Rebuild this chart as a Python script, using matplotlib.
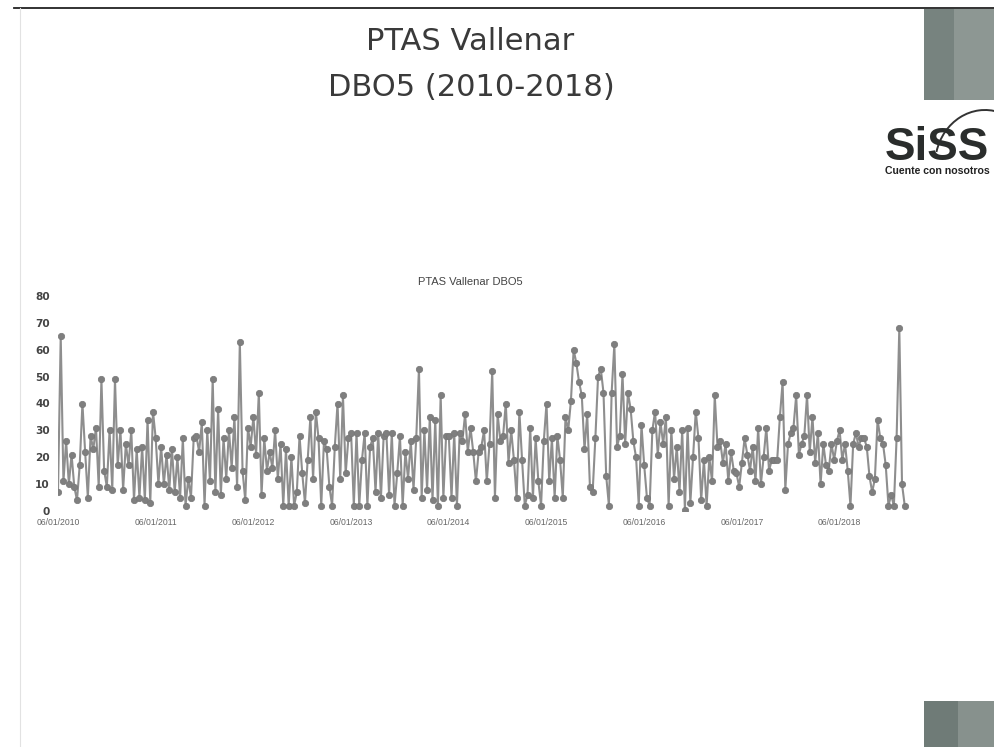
import numpy as np
import matplotlib
matplotlib.use("Agg")
import matplotlib.pyplot as plt
from matplotlib.patches import Rectangle, Arc, Circle

title_lines = ["PTAS Vallenar", "DBO5 (2010-2018)"]
chart_title = "PTAS Vallenar DBO5"
years = [2010, 2011, 2012, 2013, 2014, 2015, 2016, 2017, 2018]
tick_labels = ["06/01/2010", "06/01/2011", "06/01/2012", "06/01/2013", "06/01/2014",
               "06/01/2015", "06/01/2016", "06/01/2017", "06/01/2018"]
y_ticks = [0, 10, 20, 30, 40, 50, 60, 70, 80]

dbo5_2010 = [7,65,11,26,10,21,9,4,17,40,22,5,28,23,31,9,49,15,9,30,8,49,17,30,8,25,17,30,4,23,5,24,4,34,3,37]
dbo5_2011 = [27,10,24,10,21,8,23,7,20,5,27,2,12,5,27,28,22,33,2,30,11,49,7,38,6,27,12,30,16,35,9,63,15,4,31,24]
dbo5_2012 = [35,21,44,6,27,15,22,16,30,12,25,2,23,2,20,2,7,28,14,3,19,35,12,37,27,2,26,23,9,2,24,40,12,43,14,27]
dbo5_2013 = [29,2,29,2,19,29,2,24,27,7,29,5,28,29,6,29,2,14,28,2,22,12,26,8,27,53,5,30,8,35,4,34,2,43,5,28]
dbo5_2014 = [28,5,29,2,29,26,36,22,31,22,11,22,24,30,11,25,52,5,36,26,28,40,18,30,19,5,37,19,2,6,31,5,27,11,2,26]
dbo5_2015 = [40,11,27,5,28,19,5,35,30,41,60,55,48,43,23,36,9,7,27,50,53,44,13,2,44,62,24,28,51,25,44,38,26,20,2,32]
dbo5_2016 = [17,5,2,30,37,21,33,25,35,2,30,12,24,7,30,0.5,31,3,20,37,27,4,19,2,20,11,43,24,26,18,25,11,22,15,14,9]
dbo5_2017 = [18,27,21,15,24,11,31,10,20,31,15,19,19,19,35,48,8,25,29,31,43,21,25,28,43,22,35,18,29,10,25,17,15,25,19,26]
dbo5_2018 = [30,19,25,15,2,25,29,24,27,27,24,13,7,12,34,27,25,17,2,6,2,27,68,10,2]
samples_per_year = 36

series = [dbo5_2010, dbo5_2011, dbo5_2012, dbo5_2013, dbo5_2014, dbo5_2015, dbo5_2016, dbo5_2017, dbo5_2018]
x = np.concatenate([yr + np.arange(len(v)) / samples_per_year for yr, v in zip(years, series)])
y = np.concatenate(series)

W, H = 994, 747
fig = plt.figure(figsize=(W / 100, H / 100), dpi=100, facecolor="white")
plt.rcParams["font.family"] = ["DejaVu Sans"]

# slide layer in pixel coordinates
bg = fig.add_axes([0, 0, 1, 1])
bg.set_xlim(0, W)
bg.set_ylim(H, 0)
bg.axis("off")
bg.plot([14, 994], [8, 8], color="#222222", lw=1.3)
bg.plot([20, 20], [8, 747], color="#e2e2e2", lw=0.8)
bg.add_patch(Rectangle((924, 9), 30, 91, color="#77837f", lw=0))
bg.add_patch(Rectangle((954, 9), 40, 91, color="#8d9793", lw=0))
bg.add_patch(Rectangle((924, 701), 34, 46, color="#6f7b77", lw=0))
bg.add_patch(Rectangle((958, 701), 36, 46, color="#87918d", lw=0))
bg.text(470, 42, title_lines[0], ha="center", va="center", fontsize=22, color="#3a3a3a")
bg.text(471, 87, title_lines[1], ha="center", va="center", fontsize=22, color="#3a3a3a")
bg.text(937, 148, "SiSS", ha="center", va="center", fontsize=33, fontweight="bold",
        family="Liberation Sans", color="#2a2d2c")
bg.text(937, 171, "Cuente con nosotros", ha="center", va="center", fontsize=7.6, fontweight="bold",
        family="Liberation Sans", color="#222222")
bg.add_patch(Arc((985, 165), 100, 110, theta1=195, theta2=285, color="#333333", lw=1.4))

# chart layer
x0, x1 = 58, 58 + 97.7 * 9
ytop, ybot = 296, 511
ax = fig.add_axes([x0 / W, 1 - ybot / H, (x1 - x0) / W, (ybot - ytop) / H], facecolor="none")
ax.plot(x, y, color="#8e8e8e", lw=1.5, marker="o", ms=4.6,
        mfc="#7f7f7f", mec="#777777", mew=0.5, solid_joinstyle="round")
ax.set_xlim(2010, 2019)
ax.set_ylim(0, 80)
ax.set_xticks(years)
ax.set_xticklabels(tick_labels, fontsize=6.2, color="#666666", family="Liberation Sans")
ax.set_yticks(y_ticks)
ax.set_yticklabels([str(v) for v in y_ticks], fontsize=7.6, fontweight="bold", color="#444444")
ax.tick_params(length=0, pad=6)
ax.tick_params(axis="x", pad=5)
for s in ax.spines.values():
    s.set_visible(False)
fig.text(470 / W, 1 - 282 / H, chart_title, ha="center", va="center", fontsize=8, color="#444444",
         family="Liberation Sans")
fig.savefig("out.png", dpi=100)
